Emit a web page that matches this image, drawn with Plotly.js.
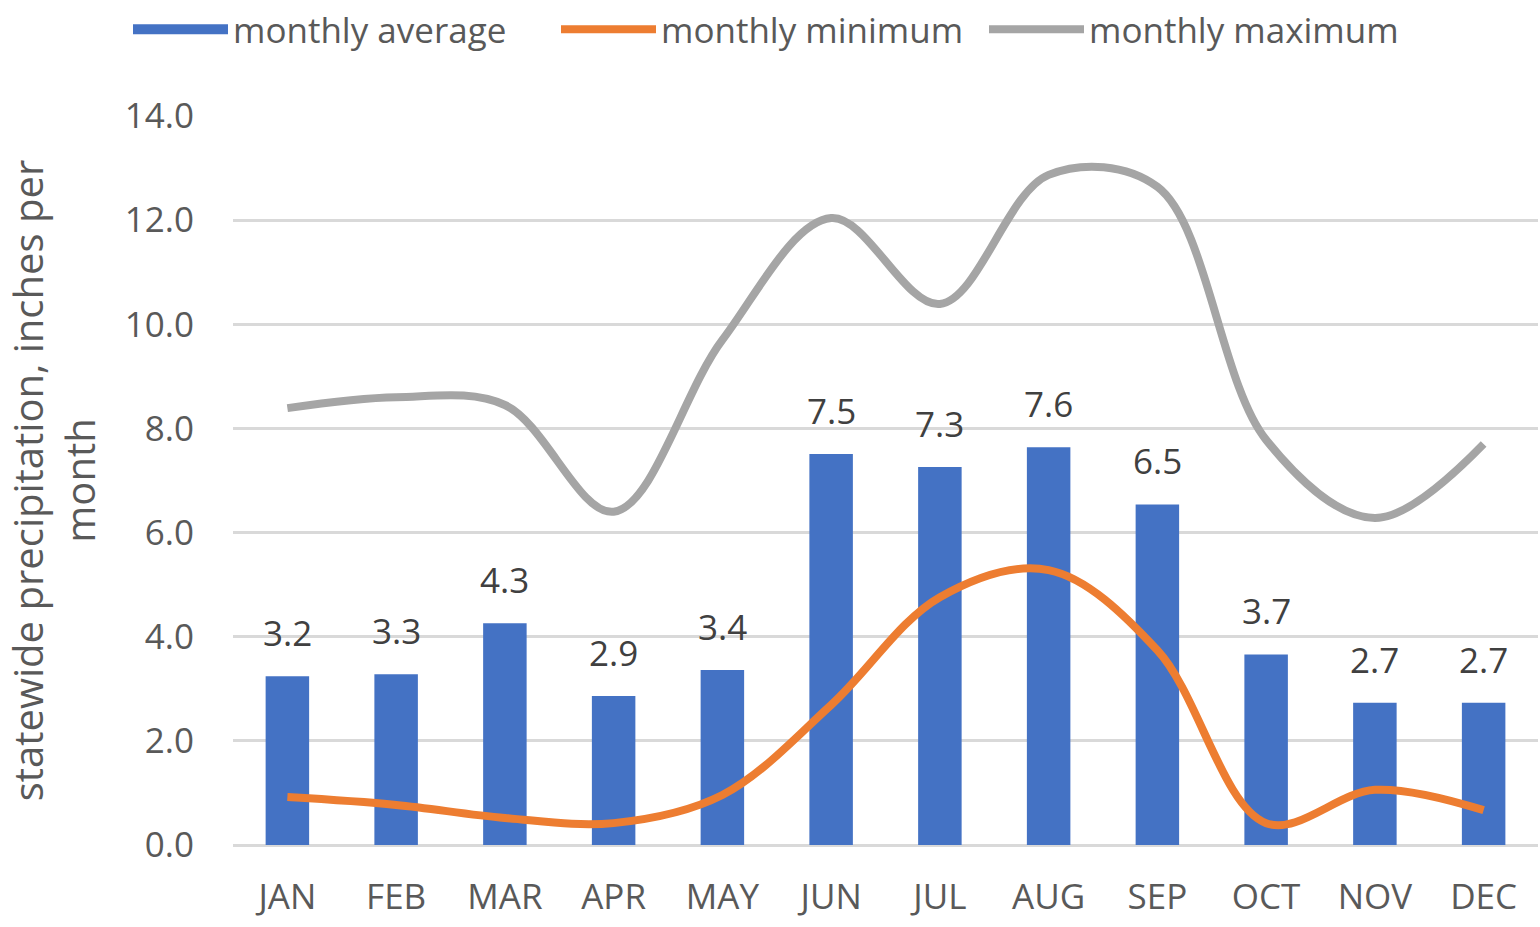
<!DOCTYPE html>
<html>
<head>
<meta charset="utf-8">
<script src="https://cdn.plot.ly/plotly-3.0.1.min.js"></script>
<style>html,body{margin:0;padding:0;background:#fff;}#chart{width:1540px;height:927px;}</style>
</head>
<body>
<div id="chart"></div>
<script>
const months = ["JAN","FEB","MAR","APR","MAY","JUN","JUL","AUG","SEP","OCT","NOV","DEC"];
const monthlyAverage = [3.24, 3.28, 4.26, 2.86, 3.36, 7.51, 7.26, 7.64, 6.54, 3.66, 2.73, 2.73];
const monthlyMinimum = [0.92, 0.77, 0.52, 0.42, 0.96, 2.69, 4.76, 5.28, 3.74, 0.42, 1.06, 0.67];
const monthlyMaximum = [8.39, 8.60, 8.45, 6.40, 9.70, 12.04, 10.39, 12.87, 12.64, 7.78, 6.28, 7.70];
const yTicks = [0, 2, 4, 6, 8, 10, 12, 14];

const FONT = "Open Sans, Liberation Sans, sans-serif";
const TXT = "#595959";
const BLUE = "#4472C4";

const traces = [
  {type: "bar", name: "monthly average", x: months, y: monthlyAverage,
   marker: {color: BLUE}, showlegend: false, hoverinfo: "y"},
  // legend-only entry so the legend swatch is a wide rectangle like the reference
  {type: "scatter", mode: "lines", name: "monthly average", x: [null], y: [null],
   line: {color: BLUE, width: 22}, hoverinfo: "skip"},
  {type: "scatter", mode: "lines", name: "monthly minimum", x: months, y: monthlyMinimum,
   line: {color: "#ED7D31", width: 8, shape: "spline", smoothing: 1}},
  {type: "scatter", mode: "lines", name: "monthly maximum", x: months, y: monthlyMaximum,
   line: {color: "#A5A5A5", width: 8, shape: "spline", smoothing: 1}}
];

const annotations = months.map((m, i) => ({
  x: m, y: monthlyAverage[i], xref: "x", yref: "y",
  text: monthlyAverage[i].toFixed(1), showarrow: false,
  yanchor: "bottom", yshift: 18,
  font: {family: FONT, size: 35, color: "#404040"}
}));

const layout = {
  width: 1540, height: 927,
  margin: {l: 233, r: 2, t: 116, b: 82},
  paper_bgcolor: "#fff", plot_bgcolor: "#fff",
  bargap: 0.6,
  showlegend: true,
  legend: {orientation: "h", x: 0.5, xref: "container", xanchor: "center",
           y: 1.0, yref: "container", yanchor: "top",
           font: {family: FONT, size: 35, color: TXT}, itemwidth: 95,
           entrywidth: 318, entrywidthmode: "pixels", traceorder: "normal"},
  xaxis: {type: "category", tickfont: {family: FONT, size: 35, color: TXT},
          showgrid: false, zeroline: false, showline: false, ticks: "", ticklabelstandoff: 28},
  yaxis: {range: [0, 14], tickvals: yTicks, tickformat: ".1f",
          tickfont: {family: FONT, size: 35, color: TXT},
          showgrid: true, gridcolor: "#D9D9D9", gridwidth: 3,
          zeroline: true, zerolinecolor: "#D9D9D9", zerolinewidth: 3,
          showline: false, ticks: "", ticklabelstandoff: 38,
          title: {text: "statewide precipitation, inches per<br>month", standoff: 20,
                  font: {family: FONT, size: 40, color: TXT}}},
  annotations: annotations
};

Plotly.newPlot("chart", traces, layout, {displayModeBar: false, staticPlot: true});
</script>
</body>
</html>
